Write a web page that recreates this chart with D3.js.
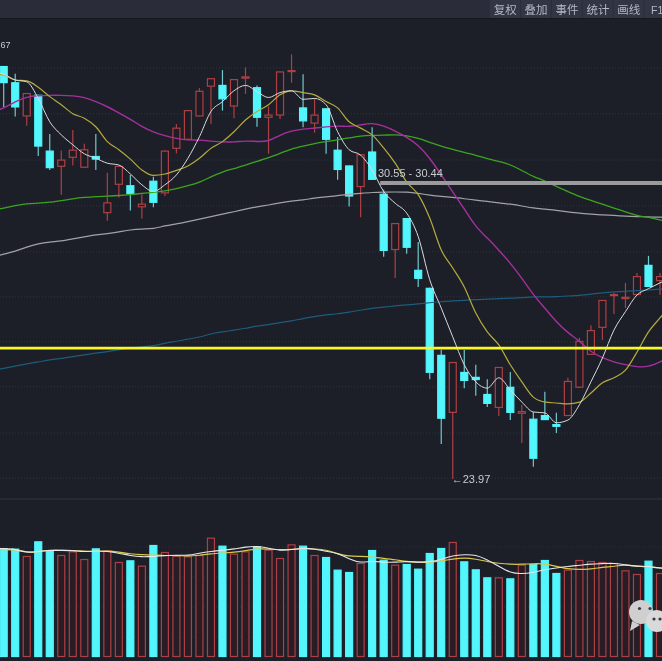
<!DOCTYPE html>
<html><head><meta charset="utf-8">
<script src="https://cdn.jsdelivr.net/npm/d3@7/dist/d3.min.js"></script>
<style>html,body{margin:0;padding:0;background:#1c1f28;overflow:hidden}svg{display:block}</style>
</head><body><svg id="c" width="662" height="661"></svg>
<script>
const opens=[33.15,32.79,32.03,32.51,31.27,30.91,31.11,30.89,31.15,29.88,30.51,30.50,30.01,30.60,30.32,31.31,31.51,32.03,32.69,32.73,32.25,32.87,32.68,32.00,32.05,33.03,32.23,31.87,32.21,31.29,30.94,30.46,31.25,30.31,29.06,29.77,28.62,28.22,26.73,25.44,26.35,26.24,25.86,25.55,26.02,25.42,25.31,25.39,25.19,25.37,26.00,26.73,27.33,28.04,27.97,28.06,28.73,28.37];
const closes=[32.77,32.23,32.55,31.36,30.88,31.07,31.29,31.30,31.07,30.12,30.93,30.30,30.09,30.11,31.27,31.78,32.17,32.60,32.88,32.41,32.86,32.92,32.00,32.07,33.03,33.06,31.92,32.07,31.51,30.84,30.25,31.19,30.62,29.04,29.66,29.11,28.42,26.33,25.31,26.57,26.15,26.17,25.64,26.46,25.44,25.48,24.42,25.28,25.13,26.15,27.04,27.28,27.95,28.08,28.02,28.48,28.24,28.48];
const highs=[33.15,32.98,32.55,32.51,31.64,31.27,31.73,31.42,31.64,30.78,30.93,30.73,30.30,30.69,31.27,31.86,32.17,32.66,32.88,33.06,32.86,33.12,32.72,32.25,33.03,33.41,32.97,32.43,32.21,31.57,30.94,31.19,31.79,30.40,29.66,29.77,29.24,28.22,26.84,26.57,26.84,26.51,26.19,26.46,26.35,25.62,25.46,25.91,25.44,26.22,27.11,27.39,27.95,28.11,28.33,28.55,28.93,28.55];
const lows=[32.24,32.03,31.82,31.15,30.84,30.29,30.94,30.89,30.84,29.71,30.23,29.94,29.76,30.01,30.26,31.21,31.51,32.03,31.86,32.16,31.99,32.53,31.80,31.20,31.97,32.78,31.79,31.67,31.20,30.62,30.03,29.79,30.62,28.91,28.44,28.98,28.24,26.19,24.75,23.97,25.99,25.82,25.57,25.37,25.28,24.77,24.24,25.28,24.99,25.37,26.00,26.73,27.06,27.64,27.77,28.06,28.24,28.06];
// moving averages: one value before the first candle, one per candle, one after the last
const ma5=[33.02,32.97,32.84,32.80,32.43,31.91,31.62,31.40,31.20,31.10,30.99,30.95,30.75,30.51,30.36,30.51,30.73,31.10,31.58,32.14,32.36,32.60,32.72,32.58,32.45,32.56,32.60,32.41,32.43,32.29,31.69,31.29,31.17,30.84,30.36,30.10,29.88,29.36,28.40,27.77,27.13,26.51,26.13,25.99,26.22,25.95,25.68,25.46,25.44,25.22,25.28,25.62,26.13,26.66,27.28,27.69,28.06,28.20,28.33,28.45];
const ma10=[32.98,32.95,32.84,32.82,32.68,32.47,32.29,32.09,31.99,31.80,31.47,31.29,31.08,30.84,30.72,30.75,30.83,30.93,31.10,31.32,31.47,31.69,31.95,32.14,32.29,32.51,32.60,32.56,32.51,32.36,32.22,31.91,31.77,31.62,31.33,30.99,30.57,30.29,29.77,29.06,28.66,28.24,27.66,27.24,26.95,26.51,26.13,25.79,25.68,25.66,25.64,25.68,25.88,26.11,26.22,26.39,26.79,27.24,27.55,27.85];
const ma20=[32.13,32.21,32.36,32.47,32.49,32.50,32.50,32.49,32.46,32.36,32.25,32.11,31.97,31.80,31.68,31.60,31.54,31.50,31.51,31.48,31.46,31.46,31.49,31.47,31.47,31.62,31.71,31.75,31.77,31.80,31.82,31.80,31.84,31.89,31.82,31.71,31.57,31.40,31.11,30.73,30.35,29.98,29.57,29.33,29.06,28.77,28.44,28.06,27.77,27.46,27.22,27.04,26.79,26.66,26.57,26.51,26.46,26.46,26.57,26.70];
const ma30=[29.95,29.99,30.05,30.09,30.10,30.12,30.16,30.20,30.23,30.25,30.26,30.27,30.29,30.32,30.34,30.37,30.42,30.49,30.56,30.69,30.80,30.87,30.95,31.03,31.11,31.21,31.31,31.37,31.43,31.47,31.51,31.55,31.60,31.61,31.61,31.63,31.60,31.55,31.45,31.37,31.30,31.23,31.17,31.09,31.03,30.96,30.83,30.69,30.60,30.47,30.36,30.25,30.16,30.08,29.99,29.91,29.82,29.79,29.73,29.67];
const ma60=[28.90,28.97,29.03,29.13,29.20,29.24,29.26,29.31,29.35,29.40,29.42,29.46,29.51,29.53,29.53,29.60,29.64,29.69,29.75,29.80,29.86,29.91,29.97,30.02,30.06,30.11,30.15,30.17,30.22,30.24,30.27,30.30,30.32,30.34,30.35,30.35,30.35,30.32,30.28,30.25,30.23,30.20,30.17,30.14,30.11,30.08,30.04,29.99,29.97,29.94,29.91,29.88,29.86,29.84,29.83,29.81,29.80,29.80,29.79,29.78];
const ma120=[26.38,26.43,26.48,26.53,26.57,26.62,26.65,26.69,26.73,26.77,26.80,26.85,26.88,26.91,26.93,26.99,27.03,27.08,27.12,27.20,27.24,27.28,27.32,27.37,27.40,27.45,27.48,27.54,27.58,27.62,27.64,27.68,27.72,27.77,27.79,27.82,27.84,27.86,27.89,27.91,27.93,27.94,27.96,27.97,27.98,27.99,28.00,28.02,28.02,28.02,28.04,28.05,28.08,28.11,28.13,28.14,28.16,28.17,28.19,28.21];
const volumes=[326,325,303,347,320,306,317,294,326,320,285,290,274,336,315,304,302,306,358,334,310,317,332,322,297,338,334,306,300,262,255,282,321,292,277,279,265,312,327,345,287,263,239,239,236,277,279,291,252,262,291,288,285,282,260,249,289,252];
const volWhite=[326,325,324,312,317,320,320,320,315,319,317,312,304,300,302,304,306,304,312,317,320,324,330,333,326,319,322,327,324,317,312,294,282,288,284,284,287,284,285,292,305,307,307,292,272,252,249,254,262,267,272,275,279,280,282,276,272,272,267,262];
const volYellow=[322,322,322,314,315,321,320,320,317,316,319,315,309,307,306,304,305,302,305,310,312,314,319,325,324,322,322,326,324,322,309,302,302,300,296,292,286,284,284,288,294,298,294,286,281,278,278,280,280,272,264,262,264,269,272,277,272,270,267,266];
const priceTicks=[33.11,32.09,31.06,30.04,29.02,28.02,27.02,26.02,24.99,23.99];
const volTicks=[330,240,150,60];
const supportLevel=26.88;
const zoneHigh=30.55, zoneLow=30.44, lowPrice=23.97, cutLabel="67";
const menuItems=["复权","叠加","事件","统计","画线"];

const svg=d3.select("#c");
const W=662,H=661;
const x=d3.scaleLinear().domain([0,57]).range([3.7,660]);
const y=d3.scaleLinear().domain([23.97,30.55]).range([479,183]);
const yv=d3.scaleLinear().domain([0,360]).range([657,537]);
const BW=8;
svg.append("rect").attr("width",W).attr("height",H).attr("fill","#1c1f28");
const root=svg.append("g").attr("style","filter:blur(0.45px)");

// toolbar
root.append("rect").attr("width",W).attr("height",18).attr("fill","#2a2d39");
root.append("rect").attr("y",18).attr("width",W).attr("height",1).attr("fill","#15171e");
const menuX=d3.scaleLinear().domain([0,5]).range([490,644.5]);
root.selectAll(".mb").data(menuItems).join("rect").attr("x",(d,i)=>menuX(i)).attr("width",30).attr("height",18).attr("fill","#323543");
root.append("rect").attr("x",menuX(5)).attr("width",20).attr("height",18).attr("fill","#323543");
root.selectAll(".mt").data(menuItems).join("text").attr("x",(d,i)=>menuX(i)+15.2).attr("y",14).attr("text-anchor","middle")
 .attr("font-family","'Noto Sans CJK SC'").attr("font-size",11.5).attr("fill","#b5b9c3").text(d=>d);
root.append("text").attr("x",651).attr("y",14).attr("font-family","Liberation Sans").attr("font-size",10.5).attr("fill","#b5b9c3").text("F1");

// grid
root.selectAll(".g").data(priceTicks).join("line").attr("x1",0).attr("x2",W).attr("y1",d=>y(d)).attr("y2",d=>y(d))
 .attr("stroke","#31343d").attr("stroke-width",1).attr("stroke-dasharray","1 2");
root.selectAll(".gv").data(volTicks).join("line").attr("x1",0).attr("x2",W).attr("y1",d=>yv(d)).attr("y2",d=>yv(d))
 .attr("stroke","#2c2f38").attr("stroke-width",1).attr("stroke-dasharray","1 2");
root.append("line").attr("x1",0).attr("x2",W).attr("y1",499).attr("y2",499).attr("stroke","#34363f");

const RED="#ad4045",CY="#52f6fc";
const idx=d3.range(opens.length);
const up=i=>closes[i]>=opens[i];
// wicks
root.selectAll(".w").data(idx).join("line").attr("x1",i=>x(i)).attr("x2",i=>x(i))
 .attr("y1",i=>y(highs[i])).attr("y2",i=>y(lows[i]))
 .attr("stroke",i=>up(i)?RED:"#6fc9cf").attr("stroke-width",1.2);
// bodies
root.selectAll(".b").data(idx).join("rect")
 .attr("x",i=>x(i)-BW/2+0.5).attr("width",BW-1)
 .attr("y",i=>y(Math.max(opens[i],closes[i]))+0.5)
 .attr("height",i=>Math.max(1,Math.abs(y(opens[i])-y(closes[i]))-1))
 .attr("fill",i=>up(i)?"#1e1d26":CY).attr("stroke",i=>up(i)?RED:CY).attr("stroke-width",1.2);
// volume
root.selectAll(".v").data(idx).join("rect")
 .attr("x",i=>x(i)-BW/2+0.5).attr("width",BW-1)
 .attr("y",i=>yv(volumes[i])+0.5).attr("height",i=>yv(0)-yv(volumes[i])-1)
 .attr("fill",i=>up(i)?"#2a1c24":CY).attr("stroke",i=>up(i)?RED:CY).attr("stroke-width",1.2);

const line=c=>d3.line().x((d,i)=>x(i-1)).y(d=>y(d)).curve(c);
const lineV=d3.line().x((d,i)=>x(i-1)).y(d=>yv(d)).curve(d3.curveBasis);
[[ma120,"#1d5c7c",1.2,d3.curveBasis],[ma60,"#a2a2a6",1.2,d3.curveBasis],[ma30,"#3ca51f",1.3,d3.curveBasis],[ma20,"#a5309c",1.4,d3.curveBasis],[ma10,"#b5ab3c",1.2,d3.curveMonotoneX],[ma5,"#d8dbdf",1,d3.curveMonotoneX]].forEach(([d,c,w,cv])=>{
 root.append("path").attr("d",line(cv)(d)).attr("fill","none").attr("stroke",c).attr("stroke-width",w);
});
root.append("path").attr("d",lineV(volYellow)).attr("fill","none").attr("stroke","#d8c94a").attr("stroke-width",1.2);
root.append("path").attr("d",lineV(volWhite)).attr("fill","none").attr("stroke","#e8e8e8").attr("stroke-width",1.1);

// level lines
root.append("line").attr("x1",0).attr("x2",W).attr("y1",y(supportLevel)).attr("y2",y(supportLevel)).attr("stroke","#f7f72e").attr("stroke-width",2.6);
root.append("line").attr("x1",x(32)+8).attr("x2",W).attr("y1",y(zoneHigh)).attr("y2",y(zoneHigh)).attr("stroke","#9b9b9b").attr("stroke-width",4);

// labels
const lab=(t,px,py,an,fs)=>root.append("text").attr("x",px).attr("y",py).attr("text-anchor",an||"start")
 .attr("font-family","Liberation Sans").attr("font-size",fs||11).attr("fill","#c9cbcf").text(t);
lab(`${zoneHigh.toFixed(2)} - ${zoneLow.toFixed(2)}`,378,177);
lab(`←${lowPrice.toFixed(2)}`,x(39)-1,483);
lab(cutLabel,0.5,48,"start",9);

// watermark
const wm=root.append("g");
wm.append("path").attr("d","M632 621 L630 631 L640 625 Z").attr("fill","#cfcfcf");
wm.append("circle").attr("cx",641).attr("cy",612).attr("r",12).attr("fill","#cfcfcf");
wm.append("circle").attr("cx",657).attr("cy",621).attr("r",11).attr("fill","#d9d9d9");
[[639.5,608.5],[650,608.5],[654,619],[660,619]].forEach(([a,b])=>wm.append("circle").attr("cx",a).attr("cy",b).attr("r",1.6).attr("fill","#3a3a42"));
</script></body></html>
